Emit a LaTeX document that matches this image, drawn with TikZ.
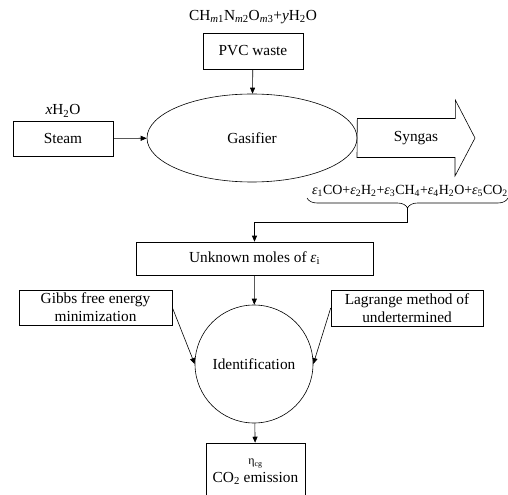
\documentclass[tikz,border=0pt]{standalone}
\usepackage{fontspec}
\setmainfont{Liberation Serif}
\usetikzlibrary{positioning,arrows.meta,calc,shapes.geometric,decorations.pathreplacing}
\newcommand{\sbs}[1]{\textsubscript{#1}}
\newcommand{\eps}[1]{\textit{ε}\textsubscript{#1}}
\tikzset{
  >={Triangle[length=6pt,width=5pt]},
  blk/.style={draw,line width=0.6pt,inner sep=0pt,align=center,
    font=\fontsize{15.4}{18}\selectfont},
  lbl/.style={inner sep=1pt,font=\fontsize{15.4}{18}\selectfont},
  flow/.style={->,line width=0.6pt},
  link/.style={line width=0.6pt},
}
\begin{document}
\begin{tikzpicture}[x=1bp,y=-1bp]
  \useasboundingbox (0,0) rectangle (508,495);
  \clip (0,0) rectangle (508,495);
  % feed and gasifier
  \node[lbl] (feed) at (253,17)
    {CH\sbs{\textit{m}1}N\sbs{\textit{m}2}O\sbs{\textit{m}3}+\textit{y}H\sbs{2}O};
  \node[blk,minimum width=100bp,minimum height=36bp] (pvc) at (253,51) {PVC waste};
  \node[blk,ellipse,minimum width=210bp,minimum height=88bp] (gas) at (252,138) {Gasifier};
  \node[lbl] (water) at (63,111) {\textit{x}H\sbs{2}O};
  \node[blk,minimum width=100bp,minimum height=35bp] (steam) at (63,138.5) {Steam};
  \draw[flow] (pvc) -- (gas);
  \draw[flow] (steam) -- (gas);
  % syngas arrow
  \draw[link] (gas.east) ++(0,-19.5) -- ++(98,0) -- ++(0,-18.5) -- (475,138)
    -- (455,176) -- ++(0,-18.5) -- ++(-98,0) -- cycle;
  \node[lbl] (syn) at (416,138) {Syngas};
  \node[lbl,font=\fontsize{14}{16}\selectfont] (prod) at (410,191)
    {\eps{1}CO+\eps{2}H\sbs{2}+\eps{3}CH\sbs{4}+\eps{4}H\sbs{2}O+\eps{5}CO\sbs{2}};
  \draw[link,decorate,decoration={brace,mirror,amplitude=10bp}] (307,198) -- (508,198);
  \coordinate (tip) at (407.5,208);
  % identification
  \node[blk,minimum width=237bp,minimum height=33bp] (unk) at (254.5,258.5)
    {Unknown moles of \eps{i}};
  \draw[flow] (tip) -- ++(0,14) -| (unk.north);
  \node[blk,circle,minimum size=118bp] (ident) at (254,364) {Identification};
  \node[blk,minimum width=153bp,minimum height=35bp] (gibbs) at (95.5,307.5)
    {Gibbs free energy\\minimization};
  \node[blk,minimum width=152bp,minimum height=36bp] (lag) at (407,308)
    {Lagrange method of\\undertermined};
  \draw[flow] (unk) -- (ident);
  \draw[flow] (gibbs.east) -- (ident.west);
  \draw[flow] (lag.west) -- (ident.east);
  % outputs
  \node[blk,minimum width=99bp,minimum height=58bp] (out) at (255.5,472)
    {\fontsize{12}{16}\selectfont η\sbs{cg}\\CO\sbs{2} emission};
  \draw[flow] (ident) -- (out);
\end{tikzpicture}
\end{document}
